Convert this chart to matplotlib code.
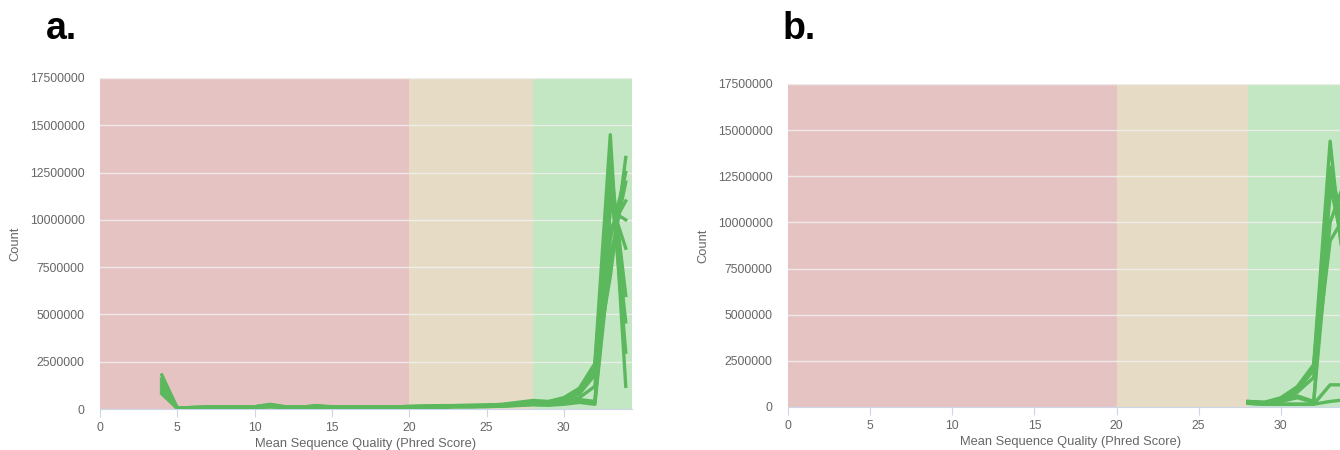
import matplotlib.pyplot as plt
from matplotlib.ticker import FuncFormatter

plt.rcParams['font.family'] = ['Liberation Sans', 'DejaVu Sans']

# Phred score positions
x_a = list(range(4, 35))
x_b = list(range(28, 35))

# panel a counts per sample (millions of reads)
counts_a = [
    [1.8, 0.05, 0.08, 0.10, 0.10, 0.10, 0.12, 0.25, 0.12, 0.10, 0.18, 0.12, 0.10, 0.10, 0.10, 0.10,
     0.15, 0.15, 0.18, 0.18, 0.20, 0.20, 0.25, 0.35, 0.45, 0.40, 0.60, 1.10, 2.40, 14.5, 1.2],
    [1.5, 0.05, 0.08, 0.10, 0.10, 0.10, 0.10, 0.22, 0.10, 0.10, 0.15, 0.10, 0.10, 0.10, 0.10, 0.10,
     0.12, 0.15, 0.15, 0.18, 0.18, 0.20, 0.22, 0.30, 0.40, 0.35, 0.55, 1.00, 2.30, 12.0, 4.6],
    [1.2, 0.04, 0.06, 0.08, 0.08, 0.08, 0.10, 0.18, 0.10, 0.08, 0.12, 0.08, 0.08, 0.08, 0.08, 0.08,
     0.10, 0.12, 0.12, 0.15, 0.15, 0.18, 0.20, 0.25, 0.35, 0.30, 0.45, 0.90, 2.20, 7.0, 13.3],
    [0.8, 0.03, 0.05, 0.06, 0.06, 0.06, 0.08, 0.12, 0.08, 0.06, 0.10, 0.06, 0.06, 0.06, 0.06, 0.06,
     0.08, 0.10, 0.10, 0.12, 0.12, 0.15, 0.15, 0.20, 0.25, 0.22, 0.30, 0.40, 0.30, 9.0, 12.5],
    [1.0, 0.04, 0.06, 0.08, 0.08, 0.08, 0.10, 0.15, 0.08, 0.08, 0.12, 0.08, 0.08, 0.08, 0.08, 0.08,
     0.10, 0.12, 0.12, 0.15, 0.15, 0.15, 0.18, 0.22, 0.30, 0.25, 0.35, 0.50, 0.40, 10.5, 10.0],
    [1.6, 0.05, 0.08, 0.10, 0.10, 0.10, 0.12, 0.20, 0.10, 0.10, 0.15, 0.10, 0.10, 0.10, 0.10, 0.10,
     0.12, 0.15, 0.15, 0.18, 0.18, 0.20, 0.22, 0.30, 0.40, 0.35, 0.50, 0.90, 2.00, 13.0, 6.0],
    [0.9, 0.03, 0.05, 0.06, 0.06, 0.06, 0.08, 0.12, 0.08, 0.06, 0.10, 0.06, 0.06, 0.06, 0.06, 0.06,
     0.08, 0.10, 0.10, 0.12, 0.12, 0.12, 0.15, 0.18, 0.22, 0.20, 0.25, 0.35, 0.25, 8.0, 12.0],
    [1.3, 0.04, 0.06, 0.08, 0.08, 0.08, 0.10, 0.18, 0.10, 0.08, 0.12, 0.08, 0.08, 0.08, 0.08, 0.08,
     0.10, 0.12, 0.12, 0.15, 0.15, 0.18, 0.20, 0.28, 0.35, 0.30, 0.45, 0.80, 1.80, 11.0, 8.5],
    [1.4, 0.05, 0.07, 0.09, 0.09, 0.09, 0.11, 0.20, 0.10, 0.09, 0.14, 0.09, 0.09, 0.09, 0.09, 0.09,
     0.11, 0.13, 0.14, 0.16, 0.16, 0.18, 0.20, 0.28, 0.38, 0.32, 0.50, 0.95, 2.10, 12.5, 3.0],
    [1.1, 0.04, 0.06, 0.07, 0.07, 0.07, 0.09, 0.15, 0.09, 0.07, 0.11, 0.07, 0.07, 0.07, 0.07, 0.07,
     0.09, 0.11, 0.11, 0.13, 0.13, 0.15, 0.17, 0.22, 0.28, 0.25, 0.35, 0.60, 1.20, 9.5, 11.0],
]

# panel b counts per sample (millions of reads)
counts_b = [
    [0.30, 0.25, 0.50, 1.10, 2.30, 14.4, 6.0],
    [0.30, 0.25, 0.45, 1.00, 2.20, 13.0, 9.0],
    [0.25, 0.22, 0.40, 0.90, 2.00, 11.5, 11.0],
    [0.25, 0.20, 0.35, 0.60, 0.30, 10.0, 12.5],
    [0.20, 0.18, 0.30, 0.50, 0.25, 12.0, 8.0],
    [0.25, 0.20, 0.40, 0.80, 1.60, 9.0, 10.5],
    [0.28, 0.22, 0.45, 0.95, 2.10, 12.8, 7.0],
    [0.20, 0.15, 0.15, 0.15, 0.15, 1.2, 1.2],
    [0.20, 0.15, 0.15, 0.15, 0.15, 0.30, 0.40],
]

y_ticks = [0, 2500000, 5000000, 7500000, 10000000, 12500000, 15000000, 17500000]

fig = plt.figure(figsize=(13.4, 4.5), dpi=100)
ax_a = fig.add_axes([0.0746, 0.0911, 0.397, 0.7356])
ax_b = fig.add_axes([0.588, 0.0956, 0.4218, 0.7178])


def style_axes(ax, xmax):
    ax.axvspan(0, 20, color='#e6c3c3', lw=0, zorder=0)
    ax.axvspan(20, 28, color='#e6dbc4', lw=0, zorder=0)
    ax.axvspan(28, xmax, color='#c3e6c3', lw=0, zorder=0)
    ax.set_xlim(0, xmax)
    ax.set_ylim(0, 17500000)
    ax.set_yticks(y_ticks)
    ax.set_xticks([0, 5, 10, 15, 20, 25, 30])
    ax.yaxis.set_major_formatter(FuncFormatter(lambda v, p: '%d' % v))
    for g in y_ticks[1:]:
        ax.axhline(g, color='#f2f2f2', lw=1, alpha=0.8, zorder=1)
    for s in ['top', 'right', 'left']:
        ax.spines[s].set_visible(False)
    ax.spines['bottom'].set_color('#ccd6eb')
    ax.tick_params(axis='y', length=0, labelsize=8.8, labelcolor='#666666', pad=11)
    ax.tick_params(axis='x', length=6, color='#ccd6eb', labelsize=8.8, labelcolor='#666666')
    ax.set_xlabel('Mean Sequence Quality (Phred Score)', fontsize=9.3, color='#666666', labelpad=3)
    ax.set_ylabel('Count', fontsize=9.3, color='#666666', labelpad=6)


style_axes(ax_a, 34.4)
style_axes(ax_b, 34.4)

for c in counts_a:
    ax_a.plot(x_a, [v * 1e6 for v in c], color='#5cb85c', lw=2.4, zorder=3)
for c in counts_b:
    ax_b.plot(x_b, [v * 1e6 for v in c], color='#5cb85c', lw=2.4, zorder=3)

fig.text(0.034, 0.935, 'a.', fontsize=27, fontweight='bold', va='center')
fig.text(0.584, 0.935, 'b.', fontsize=27, fontweight='bold', va='center')

fig.savefig('out.png', dpi=100)
